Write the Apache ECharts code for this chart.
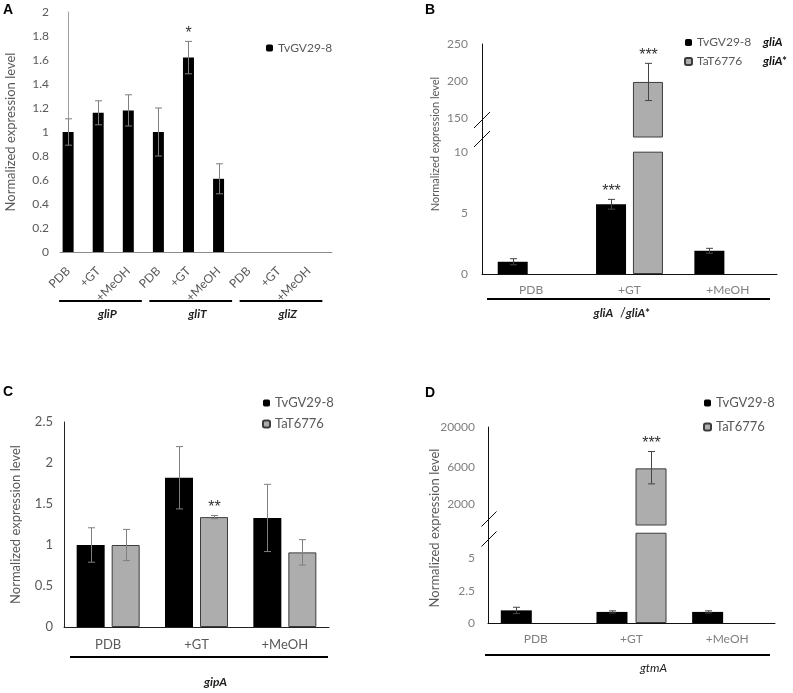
<!DOCTYPE html>
<html><head><meta charset="utf-8">
<script src="https://cdn.jsdelivr.net/npm/echarts@6/dist/echarts.min.js"></script>
<style>html,body{margin:0;padding:0;background:#fff}#c{width:793px;height:693px}</style>
</head><body><div id="c"></div>
<script>
// ---------- DATA ----------
// Panel A
const aConditions = ['PDB', '+GT', '+MeOH', 'PDB', '+GT', '+MeOH', 'PDB', '+GT', '+MeOH'];
const aGenes = ['gliP', 'gliT', 'gliZ'];
const aTv = [1.0, 1.16, 1.18, 1.0, 1.62, 0.61, null, null, null];
const aTvErr = [0.11, 0.10, 0.13, 0.20, 0.135, 0.125, null, null, null];
const aTvSig = ['', '', '', '', '*', '', '', '', ''];
const aYTicks = [0, 0.2, 0.4, 0.6, 0.8, 1, 1.2, 1.4, 1.6, 1.8, 2];

// Panel B
const bConditions = ['PDB', '+GT', '+MeOH'];
const bGeneLabel = ['gliA', 'gliA*'];
const bTv = [1.0, 5.7, 1.9];
const bTvErr = [0.25, 0.4, 0.2];
const bTvSig = ['', '***', ''];
const bTa = [null, 199, null];
const bTaErr = [null, 25, null];
const bTaSig = ['', '***', ''];
const bLowTicks = [0, 5, 10];
const bHighTicks = [150, 200, 250];
const bLowRange = [0, 11.2];
const bHighRange = [125, 250];
const bCap = 10;

// Panel C
const cConditions = ['PDB', '+GT', '+MeOH'];
const cGene = 'gipA';
const cTv = [1.0, 1.82, 1.33];
const cTvErr = [0.21, 0.38, 0.41];
const cTa = [1.0, 1.34, 0.91];
const cTaErr = [0.19, 0.02, 0.155];
const cTaSig = ['', '**', ''];

// Panel D
const dConditions = ['PDB', '+GT', '+MeOH'];
const dGene = 'gtmA';
const dTv = [0.98, 0.86, 0.86];
const dTvErr = [0.24, 0.08, 0.08];
const dTa = [null, 5780, null];
const dTaErr = [null, [2150, 3800], null];
const dTaSig = ['', '***', ''];
const dLowTicks = [0, 2.5, 5];
const dHighTicks = [2000, 6000, 20000];
const dLowRange = [0, 7.6];
const dHighRange = [1057, 20000];
const dCap = 7;

const sTv = 'TvGV29-8', sTa = 'TaT6776';

// ---------- LAYOUT ----------
const FONT = 'Lato, "Open Sans", sans-serif';
const STARFONT = '16px "Liberation Sans", Arial, sans-serif';
const G = {
  A: {left: 60, top: 12, width: 272, height: 240},
  Blow: {left: 482, top: 137, width: 295, height: 137},
  Bup: {left: 482, top: 44, width: 295, height: 93},
  C: {left: 64, top: 422, width: 265, height: 205},
  Dlow: {left: 488, top: 525, width: 287, height: 98},
  Dup: {left: 488, top: 427, width: 287, height: 98}
};
const BLACK = '#000', GREY = '#adadad', GREYB = '#3c3c3c';
const BAR = {B: {w: 30, gap: 0.23}, C: {w: 28, gap: 0.25}, D: {w: 31, gap: 0.26}};
const off = k => BAR[k].w * (1 + BAR[k].gap) / 2;

function grid(g) { return {left: g.left, top: g.top, width: g.width, height: g.height, containLabel: false}; }

function catX(gi, data, show, color, size, margin, lineColor) {
  return {gridIndex: gi, type: 'category', data: data, show: show,
    axisLine: {show: true, lineStyle: {color: lineColor, width: 1}},
    axisTick: {show: false}, splitLine: {show: false},
    axisLabel: {color: color, fontSize: size, fontFamily: FONT, margin: margin}};
}
function valY(gi, min, max, ticks, color, size, margin, lineColor, type) {
  return {gridIndex: gi, type: type || 'value', min: min, max: max,
    axisLine: {show: true, lineStyle: {color: lineColor, width: 1}},
    axisTick: {show: false}, splitLine: {show: false},
    axisLabel: {customValues: ticks, color: color, fontSize: size, fontFamily: FONT, margin: margin,
      formatter: v => String(+v.toFixed(4))}};
}
function barS(name, xi, yi, data, grey, k) {
  const s = {name: name, type: 'bar', xAxisIndex: xi, yAxisIndex: yi, data: data,
    itemStyle: grey ? {color: GREY, borderColor: GREYB, borderWidth: 1} : {color: BLACK},
    silent: true, animation: false, clip: true};
  if (k) { s.barWidth = BAR[k].w; s.barGap = Math.round(BAR[k].gap * 100) + '%'; }
  return s;
}
function errS(xi, yi, vals, errs, sigs, dx, color) {
  const data = [];
  vals.forEach((v, i) => {
    if (v == null || errs[i] == null) return;
    const e = errs[i];
    const lo = Array.isArray(e) ? e[0] : e, hi = Array.isArray(e) ? e[1] : e;
    data.push([i, v - lo, v + hi]);
  });
  return {type: 'custom', xAxisIndex: xi, yAxisIndex: yi, silent: true, z: 5, clip: false,
    animation: false, encode: {x: 0, y: [1, 2]}, data: data,
    renderItem: function (params, api) {
      const i = api.value(0);
      const p1 = api.coord([i, api.value(1)]);
      const p2 = api.coord([i, api.value(2)]);
      const x = Math.round(p1[0] + dx) + 0.5, cap = 3.5;
      const st = {stroke: color, lineWidth: 1};
      const ch = [
        {type: 'line', shape: {x1: x, y1: p1[1], x2: x, y2: p2[1]}, style: st},
        {type: 'line', shape: {x1: x - cap, y1: p1[1], x2: x + cap, y2: p1[1]}, style: st},
        {type: 'line', shape: {x1: x - cap, y1: p2[1], x2: x + cap, y2: p2[1]}, style: st}
      ];
      const s = sigs ? sigs[i] : '';
      if (s) ch.push({type: 'text', style: {text: s, x: x, y: p2[1] - 8, textAlign: 'center',
        textVerticalAlign: 'middle', font: STARFONT, fill: '#333'}});
      return {type: 'group', children: ch};
    }};
}

const capAt = (arr, c) => arr.map(v => v == null ? null : Math.min(v, c));
const above = (arr, m) => arr.map(v => (v != null && v > m) ? v : null);

const option = {
  backgroundColor: '#fff',
  animation: false,
  grid: [grid(G.A), grid(G.Blow), grid(G.Bup), grid(G.C), grid(G.Dlow), grid(G.Dup)],
  xAxis: [
    {gridIndex: 0, type: 'value', min: -0.27, max: 8.77,
      axisLine: {show: true, lineStyle: {color: '#8c8c8c'}}, axisTick: {show: false}, splitLine: {show: false},
      axisLabel: {customValues: aConditions.map((c, i) => i), rotate: 45, margin: 17,
        formatter: v => aConditions[Math.round(v)], color: '#595959', fontSize: 12, fontFamily: FONT}},
    catX(1, bConditions, true, '#808080', 12, 10, '#111'),
    catX(2, bConditions, false, '#808080', 12, 10, '#111'),
    catX(3, cConditions, true, '#595959', 13, 11, '#222'),
    catX(4, dConditions, true, '#808080', 12, 10, '#111'),
    catX(5, dConditions, false, '#808080', 12, 10, '#111')
  ],
  yAxis: [
    Object.assign(valY(0, 0, 2, aYTicks, '#595959', 12, 11, '#a0a0a0'),
      {name: 'Normalized expression level', nameLocation: 'middle', nameGap: 43,
        nameTextStyle: {color: '#595959', fontSize: 13, fontFamily: FONT}}),
    valY(1, bLowRange[0], bLowRange[1], bLowTicks, '#7f7f7f', 12, 14, '#111'),
    valY(2, bHighRange[0], bHighRange[1], bHighTicks, '#7f7f7f', 12, 14, '#111'),
    Object.assign(valY(3, 0, 2.5, [0, 0.5, 1, 1.5, 2, 2.5], '#595959', 13, 11, '#222'),
      {name: 'Normalized expression level', nameLocation: 'middle', nameGap: 42,
        nameTextStyle: {color: '#595959', fontSize: 13, fontFamily: FONT}}),
    valY(4, dLowRange[0], dLowRange[1], dLowTicks, '#7f7f7f', 12, 13, '#111'),
    Object.assign(valY(5, dHighRange[0], dHighRange[1], dHighTicks, '#7f7f7f', 12, 13, '#111', 'log'), {logBase: 10})
  ],
  legend: [
    {left: 261, top: 37, itemWidth: 7, itemHeight: 7, data: [sTv], selectedMode: false,
      textStyle: {color: '#595959', fontSize: 12, fontFamily: FONT}},
    {left: 679, top: 31, orient: 'vertical', itemWidth: 7, itemHeight: 7, itemGap: 6, data: [sTv, sTa], selectedMode: false,
      formatter: n => '{a|' + n + '}{g|' + (n === sTv ? bGeneLabel[0] : bGeneLabel[1]) + '}',
      textStyle: {color: '#595959', fontSize: 12, fontFamily: FONT, lineHeight: 13,
        rich: {a: {width: 66, color: '#595959', fontSize: 12, fontFamily: FONT},
          g: {color: '#111', fontSize: 12, fontStyle: 'italic', fontWeight: 'bold', fontFamily: FONT}}}},
    {left: 257, top: 391, orient: 'vertical', itemWidth: 7, itemHeight: 7, itemGap: 7, data: [sTv, sTa], selectedMode: false,
      textStyle: {color: '#595959', fontSize: 13, fontFamily: FONT, lineHeight: 14}},
    {left: 698, top: 391, orient: 'vertical', itemWidth: 7, itemHeight: 7, itemGap: 10, data: [sTv, sTa], selectedMode: false,
      textStyle: {color: '#595959', fontSize: 13, fontFamily: FONT, lineHeight: 14}}
  ],
  series: [
    Object.assign(barS(sTv, 0, 0, aTv.map((v, i) => [i, v]), false), {barWidth: 11}),
    errS(0, 0, aTv, aTvErr, aTvSig, 0, '#7f7f7f'),

    barS(sTv, 1, 1, capAt(bTv, bCap), false, 'B'),
    barS(sTa, 1, 1, capAt(bTa, bCap), true, 'B'),
    barS(sTv, 2, 2, above(bTv, bHighRange[0]), false, 'B'),
    barS(sTa, 2, 2, above(bTa, bHighRange[0]), true, 'B'),
    errS(1, 1, bTv, bTvErr, bTvSig, -off('B'), '#444'),
    errS(2, 2, bTa, bTaErr, bTaSig, off('B'), '#444'),

    barS(sTv, 3, 3, cTv, false, 'C'),
    barS(sTa, 3, 3, cTa, true, 'C'),
    errS(3, 3, cTv, cTvErr, null, -off('C'), '#7f7f7f'),
    errS(3, 3, cTa, cTaErr, cTaSig, off('C'), '#7f7f7f'),

    barS(sTv, 4, 4, capAt(dTv, dCap), false, 'D'),
    barS(sTa, 4, 4, capAt(dTa, dCap), true, 'D'),
    barS(sTv, 5, 5, above(dTv, dHighRange[0]), false, 'D'),
    barS(sTa, 5, 5, above(dTa, dHighRange[0]), true, 'D'),
    errS(4, 4, dTv, dTvErr, null, -off('D'), '#444'),
    errS(5, 5, dTa, dTaErr, dTaSig, off('D'), '#444')
  ]
};

const chart = echarts.init(document.getElementById('c'), null, {renderer: 'canvas'});
chart.setOption(option);

// ---------- DECORATIONS (placed via the chart's own coordinate conversion) ----------
const gr = [];
function txt(t, x, y, font, fill, rot, align) {
  gr.push({type: 'text', rotation: rot || 0, x: x, y: y,
    style: {text: t, x: 0, y: 0, font: font, fill: fill, textAlign: align || 'center', textVerticalAlign: 'middle'}});
}
function hline(x1, x2, y, w) {
  gr.push({type: 'line', shape: {x1: x1, y1: y, x2: x2, y2: y}, style: {stroke: '#000', lineWidth: w || 2}});
}
function slash(x, y, h) {
  gr.push({type: 'line', shape: {x1: x - h, y1: y + h, x2: x + h, y2: y - h}, style: {stroke: '#111', lineWidth: 1}});
}
// panel letters
txt('A', 8, 10, 'bold 14px Arial', '#000');
txt('B', 430, 10, 'bold 14px Arial', '#000');
txt('C', 8, 392, 'bold 14px Arial', '#000');
txt('D', 430, 393, 'bold 14px Arial', '#000');

// A gene groups
const aBase = chart.convertToPixel({yAxisIndex: 0}, 0);
aGenes.forEach((g, k) => {
  const s = k * 3, e = k * 3 + 2;
  const x1 = chart.convertToPixel({xAxisIndex: 0}, s - 0.3);
  const x2 = chart.convertToPixel({xAxisIndex: 0}, e + 0.45);
  hline(x1, x2, aBase + 49, 2);
  const xm = chart.convertToPixel({xAxisIndex: 0}, s + 1.3);
  txt(g, xm, aBase + 62, 'italic bold 12px ' + FONT, '#222');
});

// B break, underline, gene label, y title
const bJ = chart.convertToPixel({yAxisIndex: 1}, bLowRange[1]);
const bAx = G.Blow.left;
slash(bAx, bJ - 17, 8);
slash(bAx, bJ + 2, 8);
const bBase = chart.convertToPixel({yAxisIndex: 1}, 0);
hline(G.Blow.left + 5, G.Blow.left + G.Blow.width - 7, bBase + 25, 2);
const bMid = chart.convertToPixel({xAxisIndex: 1}, 1);
gr.push({type: 'text', x: bMid - 8, y: bBase + 39,
  style: {text: '{g|' + bGeneLabel[0] + '}{n|  /}{g|' + bGeneLabel[1] + '}', x: 0, y: 0, textAlign: 'center', textVerticalAlign: 'middle',
    rich: {g: {font: 'italic bold 12px ' + FONT, fill: '#222'}, n: {font: '13px ' + FONT, fill: '#222'}}}});
txt('Normalized expression level', 435, 144, '11px ' + FONT, '#595959', Math.PI / 2);

// C underline & gene label
const cBase = chart.convertToPixel({yAxisIndex: 3}, 0);
hline(G.C.left + 6, G.C.left + G.C.width - 1, cBase + 30, 2);
const cMid = chart.convertToPixel({xAxisIndex: 3}, 1);
txt(cGene, cMid + 19, cBase + 55, 'italic bold 12px ' + FONT, '#222');

// D break, underline, gene label, y title
const dJ = chart.convertToPixel({yAxisIndex: 4}, dLowRange[1]);
const dAx = G.Dlow.left + 1;
slash(dAx, dJ - 6, 7.5);
slash(dAx, dJ + 14, 7.5);
const dBase = chart.convertToPixel({yAxisIndex: 4}, 0);
hline(G.Dlow.left - 3, G.Dlow.left + G.Dlow.width - 5, dBase + 32, 2);
const dMid = chart.convertToPixel({xAxisIndex: 4}, 1);
txt(dGene, dMid + 22, dBase + 45, 'italic 12px ' + FONT, '#222');
txt('Normalized expression level', 435, 528, '13px ' + FONT, '#595959', Math.PI / 2);

chart.setOption({graphic: gr});
</script>
</body></html>
